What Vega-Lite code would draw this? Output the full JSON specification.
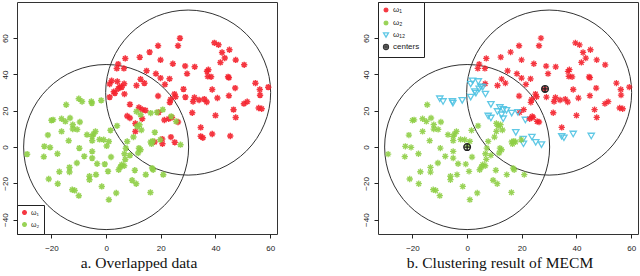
{
  "$schema": "https://vega.github.io/schema/vega-lite/v6.json",
  "padding": {"left": 0, "top": 1, "right": 0, "bottom": 0},
  "background": "white",
  "spacing": 83,
  "resolve": {"scale": {"color": "independent", "shape": "independent"}, "legend": {"color": "independent", "shape": "independent"}},
  "config": {
    "view": {"stroke": "#333", "strokeWidth": 1},
    "axis": {"grid": false, "domain": false, "title": null, "tickSize": 4, "tickColor": "#222", "labelFont": "Liberation Sans", "labelFontSize": 8, "labelColor": "#222"},
    "axisX": {"labelPadding": 6, "labelFlush": false},
    "axisY": {"labelAngle": -90, "labelAlign": "center", "labelBaseline": "alphabetic", "labelPadding": 6, "labelFlush": false},
    "title": {"font": "Liberation Serif", "fontSize": 15.5, "fontWeight": "normal", "color": "#111", "orient": "bottom", "anchor": "middle", "frame": "bounds", "offset": 4},
    "legend": {"title": null, "offset": 0, "strokeColor": "#222", "fillColor": "white", "labelFont": "Liberation Sans", "labelColor": "#222"}
  },
  "datasets": {
    "circles": [{"x": 0, "y": 0}, {"x": 30, "y": 30}],
    "ctr": [{"x": 0, "y": 0, "c": "centers"}, {"x": 28.5, "y": 32, "c": "centers"}],
    "pts": [
      {"x": 27, "y": 60, "t": "ω₁", "c": "ω₁"},
      {"x": 26.3, "y": 55.8, "t": "ω₁", "c": "ω₁"},
      {"x": 19, "y": 55.8, "t": "ω₁", "c": "ω₁"},
      {"x": 15.9, "y": 52.3, "t": "ω₁", "c": "ω₁"},
      {"x": 39.6, "y": 57.4, "t": "ω₁", "c": "ω₁"},
      {"x": 41.1, "y": 56.3, "t": "ω₁", "c": "ω₁"},
      {"x": 45.1, "y": 53.6, "t": "ω₁", "c": "ω₁"},
      {"x": 42.4, "y": 52.1, "t": "ω₁", "c": "ω₁"},
      {"x": 43.4, "y": 49, "t": "ω₁", "c": "ω₁"},
      {"x": 47.4, "y": 48, "t": "ω₁", "c": "ω₁"},
      {"x": 41.8, "y": 46.6, "t": "ω₁", "c": "ω₁"},
      {"x": 50.5, "y": 45.3, "t": "ω₁", "c": "ω₁"},
      {"x": 19.9, "y": 48, "t": "ω₁", "c": "ω₁"},
      {"x": 12.3, "y": 49.5, "t": "ω₁", "c": "ω₁"},
      {"x": 7, "y": 48.8, "t": "ω₁", "c": "ω₁"},
      {"x": 4.4, "y": 45.7, "t": "ω₁", "c": "ω₁"},
      {"x": 6.5, "y": 43.3, "t": "ω₁", "c": "ω₁"},
      {"x": 3.9, "y": 43.3, "t": "ω₁", "c": "ω₁"},
      {"x": 14.8, "y": 42, "t": "ω₁", "c": "ω₁"},
      {"x": 24.4, "y": 45.9, "t": "ω₁", "c": "ω₁"},
      {"x": 28.9, "y": 44.6, "t": "ω₁", "c": "ω₁"},
      {"x": 32.4, "y": 44.2, "t": "ω₁", "c": "ω₁"},
      {"x": 29.6, "y": 40.4, "t": "ω₁", "c": "ω₁"},
      {"x": 18.2, "y": 40.4, "t": "ω₁", "c": "ω₁"},
      {"x": 12.6, "y": 37.4, "t": "ω₁", "c": "ω₁"},
      {"x": 19.9, "y": 38, "t": "ω₁", "c": "ω₁"},
      {"x": 23.2, "y": 37.6, "t": "ω₁", "c": "ω₁"},
      {"x": 37.4, "y": 42.6, "t": "ω₁", "c": "ω₁"},
      {"x": 36.9, "y": 41.7, "t": "ω₁", "c": "ω₁"},
      {"x": 38.4, "y": 38.7, "t": "ω₁", "c": "ω₁"},
      {"x": 37.2, "y": 38.9, "t": "ω₁", "c": "ω₁"},
      {"x": 44.9, "y": 38.2, "t": "ω₁", "c": "ω₁"},
      {"x": 44.6, "y": 38.7, "t": "ω₁", "c": "ω₁"},
      {"x": 2, "y": 36.5, "t": "ω₁", "c": "ω₁₂"},
      {"x": 4.1, "y": 36.1, "t": "ω₁", "c": "ω₁₂"},
      {"x": 6.6, "y": 34.9, "t": "ω₁", "c": "ω₁"},
      {"x": 11.1, "y": 33.9, "t": "ω₁", "c": "ω₁"},
      {"x": 14, "y": 35.2, "t": "ω₁", "c": "ω₁"},
      {"x": 5, "y": 33.2, "t": "ω₁", "c": "ω₁₂"},
      {"x": 5.7, "y": 33, "t": "ω₁", "c": "ω₁₂"},
      {"x": 4.4, "y": 32.1, "t": "ω₁", "c": "ω₁₂"},
      {"x": 1.3, "y": 34.7, "t": "ω₁", "c": "ω₁₂"},
      {"x": 21.5, "y": 34.5, "t": "ω₁", "c": "ω₁"},
      {"x": 2.8, "y": 30.5, "t": "ω₁", "c": "ω₁₂"},
      {"x": 3.2, "y": 29.7, "t": "ω₁", "c": "ω₁₂"},
      {"x": 6.7, "y": 29.2, "t": "ω₁", "c": "ω₁₂"},
      {"x": 1.3, "y": 27.5, "t": "ω₁", "c": "ω₁₂"},
      {"x": 38.8, "y": 31.7, "t": "ω₁", "c": "ω₁"},
      {"x": 47.2, "y": 32.5, "t": "ω₁", "c": "ω₁"},
      {"x": 54.6, "y": 35.2, "t": "ω₁", "c": "ω₁"},
      {"x": 56.2, "y": 31.7, "t": "ω₁", "c": "ω₁"},
      {"x": 56.3, "y": 28.6, "t": "ω₁", "c": "ω₁"},
      {"x": 59.3, "y": 33, "t": "ω₁", "c": "ω₁"},
      {"x": 28.3, "y": 31.9, "t": "ω₁", "c": "ω₁"},
      {"x": 25, "y": 29.2, "t": "ω₁", "c": "ω₁"},
      {"x": 25.4, "y": 27.7, "t": "ω₁", "c": "ω₁"},
      {"x": 23.6, "y": 26.2, "t": "ω₁", "c": "ω₁"},
      {"x": 23.3, "y": 24.6, "t": "ω₁", "c": "ω₁"},
      {"x": 29, "y": 27.5, "t": "ω₁", "c": "ω₁"},
      {"x": 32.3, "y": 27.3, "t": "ω₁", "c": "ω₁"},
      {"x": 31.8, "y": 25.1, "t": "ω₁", "c": "ω₁"},
      {"x": 34, "y": 25.9, "t": "ω₁", "c": "ω₁"},
      {"x": 35.9, "y": 26.4, "t": "ω₁", "c": "ω₁"},
      {"x": 36.8, "y": 24.8, "t": "ω₁", "c": "ω₁"},
      {"x": 40.7, "y": 27, "t": "ω₁", "c": "ω₁"},
      {"x": 44.9, "y": 28.3, "t": "ω₁", "c": "ω₁"},
      {"x": 19, "y": 28.1, "t": "ω₁", "c": "ω₁"},
      {"x": 8.7, "y": 23.5, "t": "ω₁", "c": "ω₁₂"},
      {"x": 51.6, "y": 25, "t": "ω₁", "c": "ω₁"},
      {"x": 50.4, "y": 23.9, "t": "ω₁", "c": "ω₁"},
      {"x": 46.6, "y": 20.6, "t": "ω₁", "c": "ω₁"},
      {"x": 47.4, "y": 16.3, "t": "ω₁", "c": "ω₁"},
      {"x": 40, "y": 17.4, "t": "ω₁", "c": "ω₁"},
      {"x": 55.8, "y": 21.5, "t": "ω₁", "c": "ω₁"},
      {"x": 56.9, "y": 21.1, "t": "ω₁", "c": "ω₁"},
      {"x": 31.5, "y": 18.9, "t": "ω₁", "c": "ω₁"},
      {"x": 12, "y": 21.8, "t": "ω₁", "c": "ω₁₂"},
      {"x": 13.2, "y": 20.7, "t": "ω₁", "c": "ω₁₂"},
      {"x": 14.4, "y": 20.2, "t": "ω₁", "c": "ω₁₂"},
      {"x": 7.7, "y": 17.1, "t": "ω₁", "c": "ω₁₂"},
      {"x": 8.7, "y": 16, "t": "ω₁", "c": "ω₁₂"},
      {"x": 13.2, "y": 15.6, "t": "ω₁", "c": "ω₁₂"},
      {"x": 21.3, "y": 14.9, "t": "ω₁", "c": "ω₁₂"},
      {"x": 22.9, "y": 15.6, "t": "ω₁", "c": "ω₁"},
      {"x": 24.1, "y": 16.3, "t": "ω₁", "c": "ω₁"},
      {"x": 19.2, "y": 19.1, "t": "ω₁", "c": "ω₁"},
      {"x": 10.7, "y": 13, "t": "ω₁", "c": "ω₂"},
      {"x": 26.3, "y": 13.8, "t": "ω₁", "c": "ω₁"},
      {"x": 34.6, "y": 10.8, "t": "ω₁", "c": "ω₁"},
      {"x": 38.8, "y": 7.2, "t": "ω₁", "c": "ω₁₂"},
      {"x": 34.6, "y": 5.9, "t": "ω₁", "c": "ω₁₂"},
      {"x": 35.4, "y": 5.1, "t": "ω₁", "c": "ω₁₂"},
      {"x": 45.4, "y": 6.1, "t": "ω₁", "c": "ω₁₂"},
      {"x": 23.7, "y": 5.5, "t": "ω₁", "c": "ω₁₂"},
      {"x": 20.5, "y": 4.4, "t": "ω₁", "c": "ω₁₂"},
      {"x": 20.6, "y": 1.8, "t": "ω₁", "c": "ω₁₂"},
      {"x": 25.1, "y": 2.6, "t": "ω₁", "c": "ω₁₂"},
      {"x": 17.7, "y": 2.8, "t": "ω₁", "c": "ω₂"},
      {"x": 10.7, "y": 8.6, "t": "ω₁", "c": "ω₂"},
      {"x": -10, "y": 26.6, "t": "ω₂", "c": "ω₁₂"},
      {"x": -8.8, "y": 25.1, "t": "ω₂", "c": "ω₁₂"},
      {"x": -5.4, "y": 25.1, "t": "ω₂", "c": "ω₁₂"},
      {"x": -5.2, "y": 24.2, "t": "ω₂", "c": "ω₁₂"},
      {"x": -1.8, "y": 25.7, "t": "ω₂", "c": "ω₁₂"},
      {"x": -14.6, "y": 23.3, "t": "ω₂", "c": "ω₂"},
      {"x": -20, "y": 14.7, "t": "ω₂", "c": "ω₂"},
      {"x": -19.4, "y": 15, "t": "ω₂", "c": "ω₂"},
      {"x": -16.3, "y": 15.6, "t": "ω₂", "c": "ω₂"},
      {"x": -14.9, "y": 14.1, "t": "ω₂", "c": "ω₂"},
      {"x": -13.2, "y": 16, "t": "ω₂", "c": "ω₂"},
      {"x": -9.6, "y": 13.8, "t": "ω₂", "c": "ω₂"},
      {"x": -12.2, "y": 12.3, "t": "ω₂", "c": "ω₂"},
      {"x": -12.2, "y": 9.9, "t": "ω₂", "c": "ω₂"},
      {"x": -10.6, "y": 9.7, "t": "ω₂", "c": "ω₂"},
      {"x": -16.3, "y": 8.6, "t": "ω₂", "c": "ω₂"},
      {"x": -21.3, "y": 6.6, "t": "ω₂", "c": "ω₂"},
      {"x": -13.7, "y": 3.5, "t": "ω₂", "c": "ω₂"},
      {"x": -22.6, "y": 0.4, "t": "ω₂", "c": "ω₂"},
      {"x": -20.5, "y": -0.2, "t": "ω₂", "c": "ω₂"},
      {"x": -22.8, "y": -5.3, "t": "ω₂", "c": "ω₂"},
      {"x": -28.9, "y": -3.9, "t": "ω₂", "c": "ω₂"},
      {"x": -17.8, "y": -3.7, "t": "ω₂", "c": "ω₂"},
      {"x": -9.8, "y": -0.6, "t": "ω₂", "c": "ω₂"},
      {"x": -8, "y": -5.1, "t": "ω₂", "c": "ω₂"},
      {"x": -10.7, "y": -8.8, "t": "ω₂", "c": "ω₂"},
      {"x": -13.4, "y": -11.2, "t": "ω₂", "c": "ω₂"},
      {"x": -13.4, "y": -13.8, "t": "ω₂", "c": "ω₂"},
      {"x": -17.1, "y": -13.6, "t": "ω₂", "c": "ω₂"},
      {"x": -21, "y": -17.6, "t": "ω₂", "c": "ω₂"},
      {"x": -17.7, "y": -20.2, "t": "ω₂", "c": "ω₂"},
      {"x": -12.4, "y": -23.5, "t": "ω₂", "c": "ω₂"},
      {"x": -11.5, "y": -23.9, "t": "ω₂", "c": "ω₂"},
      {"x": -10, "y": -26.8, "t": "ω₂", "c": "ω₂"},
      {"x": -6.1, "y": -16.1, "t": "ω₂", "c": "ω₂"},
      {"x": -6.1, "y": -18, "t": "ω₂", "c": "ω₂"},
      {"x": -3.7, "y": -15.2, "t": "ω₂", "c": "ω₂"},
      {"x": -1.6, "y": -21.7, "t": "ω₂", "c": "ω₂"},
      {"x": 3.7, "y": -25.3, "t": "ω₂", "c": "ω₂"},
      {"x": 1, "y": -29, "t": "ω₂", "c": "ω₂"},
      {"x": -7, "y": 6.8, "t": "ω₂", "c": "ω₂"},
      {"x": -5.1, "y": 5.9, "t": "ω₂", "c": "ω₂"},
      {"x": -4.6, "y": 7.2, "t": "ω₂", "c": "ω₂"},
      {"x": -3.9, "y": 8.6, "t": "ω₂", "c": "ω₂"},
      {"x": -5.1, "y": 3.5, "t": "ω₂", "c": "ω₂"},
      {"x": -2.4, "y": 4.2, "t": "ω₂", "c": "ω₂"},
      {"x": -5.1, "y": -2.4, "t": "ω₂", "c": "ω₂"},
      {"x": -5.1, "y": -6.1, "t": "ω₂", "c": "ω₂"},
      {"x": -3.3, "y": -9.2, "t": "ω₂", "c": "ω₂"},
      {"x": -0.5, "y": -9.4, "t": "ω₂", "c": "ω₂"},
      {"x": -0.9, "y": 4, "t": "ω₂", "c": "ω₂"},
      {"x": 0.2, "y": 0.6, "t": "ω₂", "c": "ω₂"},
      {"x": 1, "y": 3.1, "t": "ω₂", "c": "ω₂"},
      {"x": 1.6, "y": 9.2, "t": "ω₂", "c": "ω₂"},
      {"x": 1.8, "y": -5.5, "t": "ω₂", "c": "ω₂"},
      {"x": 0.7, "y": -13.4, "t": "ω₂", "c": "ω₂"},
      {"x": 4, "y": 11.7, "t": "ω₂", "c": "ω₂"},
      {"x": 4.6, "y": -12.5, "t": "ω₂", "c": "ω₂"},
      {"x": 5.2, "y": -11, "t": "ω₂", "c": "ω₂"},
      {"x": 5.7, "y": -9.7, "t": "ω₂", "c": "ω₂"},
      {"x": 6.6, "y": -10.3, "t": "ω₂", "c": "ω₂"},
      {"x": 6.7, "y": -3.7, "t": "ω₂", "c": "ω₂"},
      {"x": 7.2, "y": -0.6, "t": "ω₂", "c": "ω₂"},
      {"x": 7.7, "y": 3.1, "t": "ω₂", "c": "ω₂"},
      {"x": 8.7, "y": -4.6, "t": "ω₂", "c": "ω₂"},
      {"x": 7, "y": -6.8, "t": "ω₂", "c": "ω₂"},
      {"x": 10, "y": 5.5, "t": "ω₂", "c": "ω₂"},
      {"x": 11.3, "y": 11.4, "t": "ω₂", "c": "ω₂"},
      {"x": 12.2, "y": 12.3, "t": "ω₂", "c": "ω₂"},
      {"x": 11.1, "y": 19.6, "t": "ω₂", "c": "ω₁₂"},
      {"x": 12.6, "y": 17.8, "t": "ω₂", "c": "ω₁₂"},
      {"x": 12.9, "y": 9.4, "t": "ω₂", "c": "ω₂"},
      {"x": 12, "y": -0.6, "t": "ω₂", "c": "ω₂"},
      {"x": 11.7, "y": -3.3, "t": "ω₂", "c": "ω₂"},
      {"x": 12.6, "y": -1.5, "t": "ω₂", "c": "ω₂"},
      {"x": 10.5, "y": -12.8, "t": "ω₂", "c": "ω₂"},
      {"x": 9.5, "y": -18.3, "t": "ω₂", "c": "ω₂"},
      {"x": 11, "y": -20.2, "t": "ω₂", "c": "ω₂"},
      {"x": 14.5, "y": -15.2, "t": "ω₂", "c": "ω₂"},
      {"x": 16.3, "y": 2.8, "t": "ω₂", "c": "ω₂"},
      {"x": 16.6, "y": 1.7, "t": "ω₂", "c": "ω₂"},
      {"x": 17.1, "y": 3.3, "t": "ω₂", "c": "ω₂"},
      {"x": 17.8, "y": 8.1, "t": "ω₂", "c": "ω₁₂"},
      {"x": 16.3, "y": 18.7, "t": "ω₂", "c": "ω₁₂"},
      {"x": 18.6, "y": 19.1, "t": "ω₂", "c": "ω₁₂"},
      {"x": 20.7, "y": 20.6, "t": "ω₂", "c": "ω₁"},
      {"x": 23.8, "y": 16.9, "t": "ω₂", "c": "ω₁"},
      {"x": 25.6, "y": 14.1, "t": "ω₂", "c": "ω₁"},
      {"x": 27.2, "y": 1.3, "t": "ω₂", "c": "ω₁₂"},
      {"x": 19.8, "y": 4, "t": "ω₂", "c": "ω₂"},
      {"x": 16.8, "y": -11.6, "t": "ω₂", "c": "ω₂"},
      {"x": 17.2, "y": -12.5, "t": "ω₂", "c": "ω₂"},
      {"x": 20.9, "y": -15.2, "t": "ω₂", "c": "ω₂"},
      {"x": 16.2, "y": -25, "t": "ω₂", "c": "ω₂"}
    ]
  },
  "hconcat": [
    {
      "width": 260,
      "height": 232,
      "title": {"text": "a. Overlapped data"},
      "encoding": {
        "x": {"field": "x", "type": "quantitative", "scale": {"domain": [-32.6, 62.5], "nice": false, "zero": false}, "axis": {"values": [-20, 0, 20, 40, 60]}},
        "y": {"field": "y", "type": "quantitative", "scale": {"domain": [-47.9, 79.9], "nice": false, "zero": false}, "axis": {"values": [-40, -20, 0, 20, 40, 60]}}
      },
      "layer": [
        {
          "data": {"name": "circles"},
          "mark": {"type": "point", "shape": "circle", "size": 27225, "filled": false, "stroke": "#333", "strokeWidth": 1, "opacity": 1}
        },
        {
          "data": {"name": "pts"},
          "mark": {"type": "point", "shape": "M-1,0L1,0M0,-1L0,1M-0.71,-0.71L0.71,0.71M-0.71,0.71L0.71,-0.71", "filled": false, "size": 40, "strokeWidth": 1.5, "opacity": 0.9},
          "encoding": {
            "color": {"field": "t", "type": "nominal", "scale": {"domain": ["ω₁", "ω₂"], "range": ["#f5222d", "#8fcf45"]},
              "legend": {"orient": "bottom-left", "padding": 4, "rowPadding": 1, "symbolSize": 25, "symbolStrokeWidth": 1.5, "labelFontSize": 7, "labelOffset": 3, "symbolType": "M-1,0L1,0M0,-1L0,1M-0.71,-0.71L0.71,0.71M-0.71,0.71L0.71,-0.71"}}
          }
        }
      ]
    },
    {
      "width": 260,
      "height": 232,
      "title": {"text": "b. Clustering result of MECM"},
      "encoding": {
        "x": {"field": "x", "type": "quantitative", "scale": {"domain": [-32.6, 62.5], "nice": false, "zero": false}, "axis": {"values": [-20, 0, 20, 40, 60]}},
        "y": {"field": "y", "type": "quantitative", "scale": {"domain": [-47.9, 79.9], "nice": false, "zero": false}, "axis": {"values": [-40, -20, 0, 20, 40, 60]}}
      },
      "layer": [
        {
          "data": {"name": "circles"},
          "mark": {"type": "point", "shape": "circle", "size": 27225, "filled": false, "stroke": "#333", "strokeWidth": 1, "opacity": 1}
        },
        {
          "data": {"name": "pts"},
          "mark": {"type": "point", "filled": false, "size": 40, "strokeWidth": 1.3, "opacity": 0.9},
          "encoding": {
            "color": {"field": "c", "type": "nominal", "scale": {"domain": ["ω₁", "ω₂", "ω₁₂", "centers"], "range": ["#f5222d", "#8fcf45", "#4fc3e3", "#222222"]},
              "legend": {"orient": "top-left", "padding": 4, "rowPadding": 1, "symbolSize": 25, "symbolStrokeWidth": 1.3, "labelFontSize": 8, "labelOffset": 3}},
            "shape": {"field": "c", "type": "nominal", "scale": {"domain": ["ω₁", "ω₂", "ω₁₂", "centers"], "range": ["M-1,0L1,0M0,-1L0,1M-0.71,-0.71L0.71,0.71M-0.71,0.71L0.71,-0.71", "M-1,0L1,0M0,-1L0,1M-0.71,-0.71L0.71,0.71M-0.71,0.71L0.71,-0.71", "triangle-down", "M-1,0A1,1 0 1,0 1,0A1,1 0 1,0 -1,0M-1,0L1,0M0,-1L0,1"]},
              "legend": {"orient": "top-left", "padding": 4, "rowPadding": 1, "symbolSize": 25, "symbolStrokeWidth": 1.3, "labelFontSize": 8, "labelOffset": 3}}
          }
        },
        {
          "data": {"name": "ctr"},
          "mark": {"type": "point", "filled": false, "size": 45, "strokeWidth": 1.3, "opacity": 1},
          "encoding": {
            "color": {"field": "c", "type": "nominal"},
            "shape": {"field": "c", "type": "nominal"}
          }
        }
      ]
    }
  ]
}
